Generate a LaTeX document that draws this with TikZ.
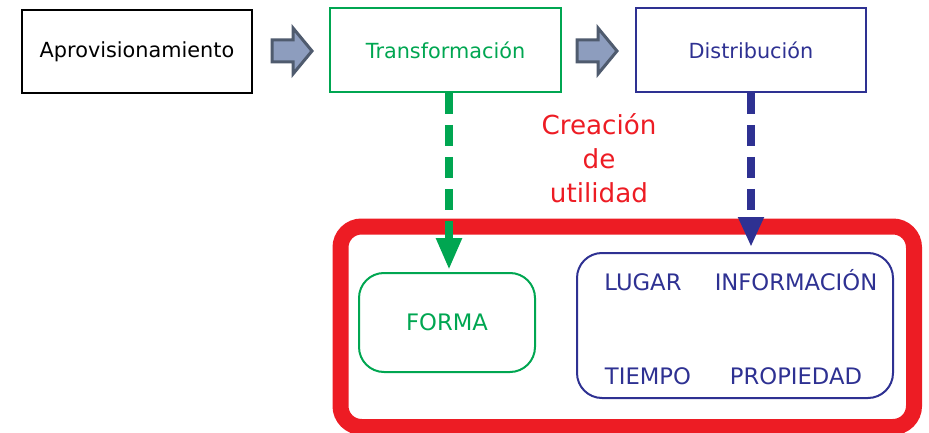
\documentclass[tikz,border=0pt]{standalone}
\usepackage{fontspec}
\setmainfont{DejaVu Sans}
\usetikzlibrary{arrows.meta,calc}
\definecolor{myGreen}{RGB}{0,166,81}
\definecolor{myBlue}{RGB}{46,49,146}
\definecolor{myRed}{RGB}{237,28,36}
\definecolor{arrFill}{RGB}{141,157,190}
\definecolor{arrLine}{RGB}{79,91,110}
\tikzset{
  topbox/.style={draw, line width=1.6pt, minimum width=230pt, minimum height=83pt, inner sep=0pt, font=\fontsize{20.8}{25}\selectfont},
  softbox/.style={draw, line width=2pt, rounded corners=25pt, inner sep=0pt},
  blocktip/.style={draw=arrLine, fill=arrFill, line width=3pt, line join=miter},
  dasharrow/.style={line width=8pt, dash pattern=on 21pt off 11pt},
  lbl/.style={font=\fontsize{22.7}{27}\selectfont, inner sep=0pt},
}
\begin{document}
\begin{tikzpicture}[x=1pt,y=-1pt]
\useasboundingbox (0,0) rectangle (929,433);
% top boxes
\node[topbox] (apro) at (137,51.5) {Aprovisionamiento};
\node[topbox, draw=myGreen, text=myGreen, minimum width=231pt, minimum height=84pt] (trans) at (445.5,50) {Transformación};
\node[topbox, draw=myBlue, text=myBlue, minimum height=84pt] (dist) at (751,50) {Distribución};
% block arrows
\draw[blocktip, shift={(272,51)}] (0,-11) -- (21,-11) -- (21,-23) -- (40,0) -- (21,23) -- (21,11) -- (0,11) -- cycle;
\draw[blocktip, shift={(577,51)}] (0,-11) -- (21,-11) -- (21,-23) -- (40,0) -- (21,23) -- (21,11) -- (0,11) -- cycle;
% label
\node[text=myRed, align=center, font=\fontsize{26.2}{34}\selectfont] (crea) at (599,158) {Creación\\de\\utilidad};
% red frame
\node[draw=myRed, line width=16pt, rounded corners=21pt, minimum width=573.5pt, minimum height=200.5pt, inner sep=0pt] (frame) at (627.25,326.75) {};
% inner boxes
\node[softbox, draw=myGreen, minimum width=176pt, minimum height=99pt] (forma) at (447,322.5) {};
\node[lbl, text=myGreen] (format) at (447,322.5) {FORMA};
\node[softbox, draw=myBlue, minimum width=316pt, minimum height=145pt] (util) at (735,325.5) {};
\node[lbl, text=myBlue] (lugar) at (643,282) {LUGAR};
\node[lbl, text=myBlue] (info) at (796,280) {INFORMACIÓN};
\node[lbl, text=myBlue] (tiempo) at (648,376) {TIEMPO};
\node[lbl, text=myBlue] (prop) at (796,376) {PROPIEDAD};
% dashed arrows
\coordinate (gtip) at (449,270);
\coordinate (btip) at (751,247);
\draw[dasharrow, myGreen, -{Triangle[width=24pt,length=32pt]}] (trans.south -| gtip) -- (gtip);
\draw[dasharrow, myBlue, -{Triangle[width=24pt,length=30pt]}] (dist.south -| btip) -- (btip);
\end{tikzpicture}
\end{document}
